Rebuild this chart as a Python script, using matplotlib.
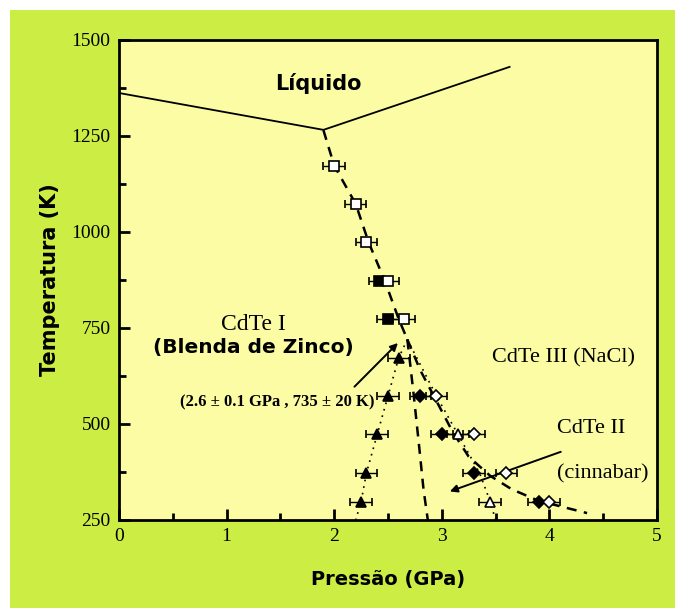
import matplotlib.pyplot as plt
from matplotlib.patches import Rectangle
from matplotlib.ticker import MultipleLocator

melt_p = [0.0, 1.9, 3.63]
melt_t = [1362, 1266, 1430]

dash_a_p = [1.9, 2.0, 2.2, 2.32, 2.47, 2.6, 2.68]
dash_a_t = [1265, 1173, 1073, 973, 873, 773, 720]

dash_b_p = [2.68, 2.74, 2.79, 2.83, 2.87]
dash_b_t = [720, 573, 440, 330, 250]

dash_c_p = [2.68, 2.8, 2.95, 3.1, 3.25, 3.45, 3.65, 3.9, 4.35]
dash_c_t = [720, 640, 560, 480, 415, 365, 330, 300, 268]

dot_l_p = [2.68, 2.6, 2.5, 2.4, 2.3, 2.25, 2.2]
dot_l_t = [720, 673, 573, 473, 373, 298, 250]

dot_r_p = [2.68, 2.95, 3.15, 3.35, 3.45, 3.5]
dot_r_t = [720, 573, 473, 373, 298, 250]

sq_open_p = [2.0, 2.2, 2.3, 2.5, 2.65]
sq_open_t = [1173, 1073, 973, 873, 773]
sq_fill_p = [2.42, 2.5]
sq_fill_t = [873, 773]
tri_fill_p = [2.6, 2.5, 2.4, 2.3, 2.25]
tri_fill_t = [673, 573, 473, 373, 298]
tri_open_p = [3.15, 3.45]
tri_open_t = [473, 298]
dia_fill_p = [2.8, 3.0, 3.3, 3.9]
dia_fill_t = [573, 473, 373, 298]
dia_open_p = [2.95, 3.3, 3.6, 4.0]
dia_open_t = [573, 473, 373, 298]
p_err = 0.1

green = '#ccee44'
yellow = '#fbfca4'

fig = plt.figure(figsize=(6.75, 6.08), dpi=100)
fig.patch.set_facecolor('white')
fig.patches.append(Rectangle((10 / 675, 0), 1, 1 - 10 / 608, transform=fig.transFigure,
                             facecolor=green, edgecolor='none', zorder=-10))
ax = fig.add_axes([119 / 675, 1 - 520 / 608, 538 / 675, 480 / 608])
ax.set_facecolor(yellow)

ax.plot(melt_p, melt_t, color='black', lw=1.3)
ax.plot(dash_a_p, dash_a_t, color='black', lw=1.8, ls=(0, (4, 3)))
ax.plot(dash_b_p, dash_b_t, color='black', lw=1.8, ls=(0, (4, 3)))
ax.plot(dash_c_p, dash_c_t, color='black', lw=1.8, ls=(0, (4, 3)))
ax.plot(dot_l_p, dot_l_t, color='black', lw=1.2, ls=(0, (1, 3)))
ax.plot(dot_r_p, dot_r_t, color='black', lw=1.2, ls=(0, (1, 3)))

kw = dict(xerr=p_err, ls='none', ecolor='black', elinewidth=1, capsize=3, markersize=6.5,
          markeredgecolor='black', markeredgewidth=1.2, zorder=5)
ax.errorbar(sq_fill_p, sq_fill_t, marker='s', mfc='black', **kw)
ax.errorbar(sq_open_p, sq_open_t, marker='s', mfc='white', **kw)
ax.errorbar(tri_fill_p, tri_fill_t, marker='^', mfc='black', **kw)
ax.errorbar(tri_open_p, tri_open_t, marker='^', mfc='white', **kw)
ax.errorbar(dia_fill_p, dia_fill_t, marker='D', mfc='black', **dict(kw, markersize=6.5))
ax.errorbar(dia_open_p, dia_open_t, marker='D', mfc='white', **dict(kw, markersize=6.5))

serif = 'Liberation Serif'
ax.text(1.85, 1387, 'Líquido', ha='center', va='center', fontsize=15, fontweight='bold')
ax.text(1.25, 758, 'CdTe I', ha='center', va='center', fontsize=17, family=serif)
ax.text(1.25, 698, '(Blenda de Zinco)', ha='center', va='center', fontsize=14.5, fontweight='bold')
ax.text(1.47, 555, '(2.6 ± 0.1 GPa , 735 ± 20 K)', ha='center', va='center', fontsize=12,
        fontweight='bold', family=serif)
ax.text(4.13, 671, 'CdTe III (NaCl)', ha='center', va='center', fontsize=16, family=serif)
ax.text(4.39, 489, 'CdTe II', ha='center', va='center', fontsize=16, family=serif)
ax.text(4.5, 371, '(cinnabar)', ha='center', va='center', fontsize=16, family=serif)

ax.annotate('', xy=(2.61, 716), xytext=(2.17, 592),
            arrowprops=dict(arrowstyle='-|>', color='black', lw=1.4, mutation_scale=11))
ax.annotate('', xy=(3.05, 322), xytext=(4.13, 430),
            arrowprops=dict(arrowstyle='-|>', color='black', lw=1.4, mutation_scale=11))

ax.set_xlim(0, 5)
ax.set_ylim(250, 1500)
ax.xaxis.set_major_locator(MultipleLocator(1))
ax.xaxis.set_minor_locator(MultipleLocator(0.5))
ax.yaxis.set_major_locator(MultipleLocator(250))
ax.yaxis.set_minor_locator(MultipleLocator(125))
ax.tick_params(which='both', direction='in', top=False, right=False, width=2, labelsize=14)
ax.tick_params(which='major', length=8, pad=6)
ax.tick_params(which='minor', length=5)
for lab in ax.get_xticklabels() + ax.get_yticklabels():
    lab.set_family(serif)
for sp in ax.spines.values():
    sp.set_linewidth(2)

ax.set_xlabel('Pressão (GPa)', fontsize=14, fontweight='bold', labelpad=18)
ax.set_ylabel('Temperatura (K)', fontsize=15, fontweight='bold', labelpad=8)

fig.savefig('out.png', dpi=100)
